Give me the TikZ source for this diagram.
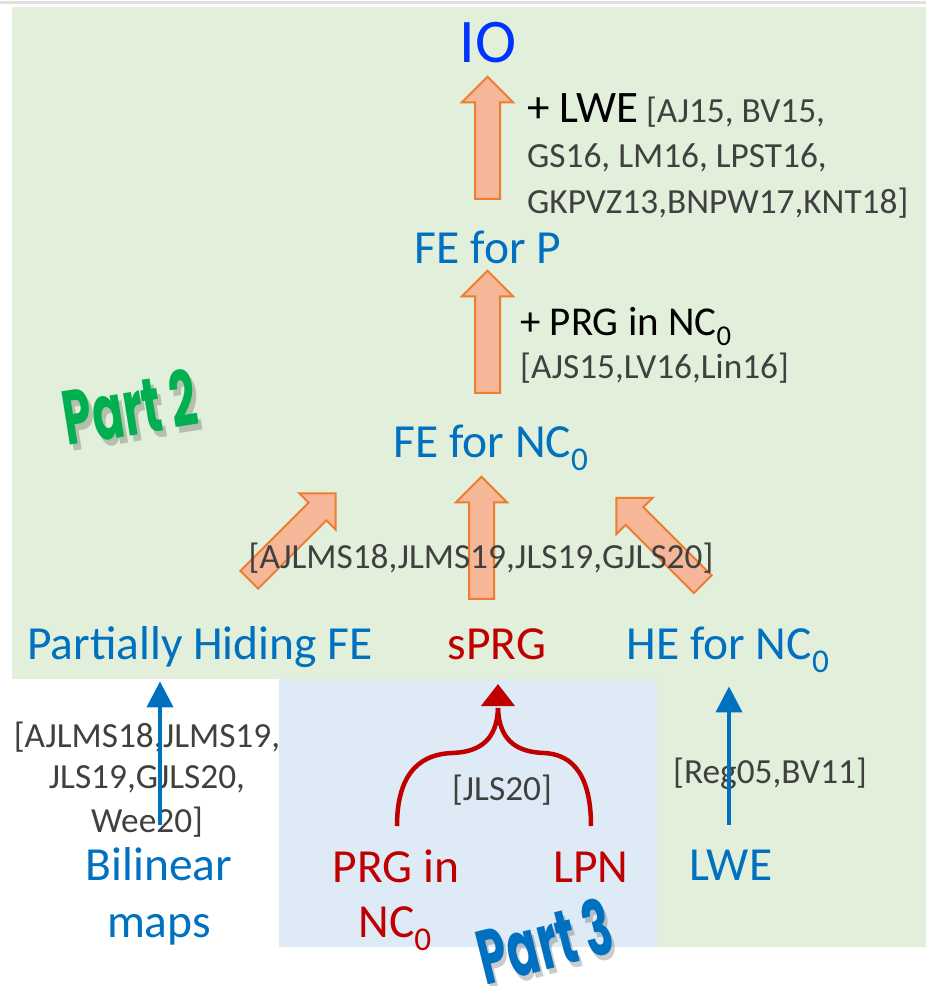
\documentclass[tikz,border=0pt]{standalone}
\usepackage{fontspec}
\usepackage{graphicx}
\setmainfont{Carlito}
\newfontfamily\partfont{Poppins}
\usetikzlibrary{shapes.arrows,arrows.meta}
\definecolor{greenbg}{RGB}{226,239,218}
\definecolor{bluebg}{RGB}{222,235,247}
\definecolor{topicblue}{RGB}{0,112,192}
\definecolor{ioblue}{RGB}{0,51,255}
\definecolor{topicred}{RGB}{192,0,0}
\definecolor{refgrey}{RGB}{64,64,64}
\definecolor{arrowfill}{RGB}{246,182,152}
\definecolor{arrowline}{RGB}{237,125,49}
\definecolor{partgreen}{RGB}{0,176,80}
\tikzset{
  lbl/.style={inner sep=0pt, font=\fontsize{47.5}{47.5}\selectfont, text=topicblue},
  ref/.style={inner sep=0pt, font=\fontsize{35.3}{35.3}\selectfont, text=refgrey},
  fatarrow/.style={single arrow, draw=arrowline, fill=arrowfill, line width=2pt,
    inner xsep=0pt, inner ysep=11.5pt, single arrow head extend=13pt, minimum height=122pt},
  thinarrow/.style={draw=topicblue, line width=4pt, -{Triangle[width=26pt,length=26pt]}},
  bracearrow/.style={draw=topicred, line width=4.5pt},
  parttag/.style={inner sep=0pt, font=\partfont\bfseries\fontsize{64}{64}\selectfont}
}
\begin{document}
\begin{tikzpicture}[x=1pt, y=-1pt]
    \useasboundingbox (0,0) rectangle (926,986);
    % backgrounds
    \draw[line width=3pt, black!12] (0,2) -- (926,2);
    \fill[greenbg] (12,7) -- (926,7) -- (926,947) -- (657,947) -- (657,679) -- (12,679) -- cycle;
    \fill[bluebg] (279,679) rectangle (657,947);
    % top part
    \node[inner sep=0pt, anchor=base, text=ioblue, font=\fontsize{62}{62}\selectfont] (io) at (488,62) {IO};
    \node[fatarrow, rotate=90] (up1) at (487.5,144) {};
    \node[ref, anchor=base west] (lwea) at (527,122) {{\color{black}\fontsize{45}{45}\selectfont + LWE} [AJ15, BV15,};
    \node[ref, anchor=base west] (lweb) at (527,167) {GS16, LM16, LPST16,};
    \node[ref, anchor=base west] (lwec) at (527,213) {GKPVZ13,BNPW17,KNT18]};
    \node[lbl, anchor=base] (fep) at (488,263) {FE for P};
    \node[fatarrow, rotate=90] (up2) at (487.5,338) {};
    \node[inner sep=0pt, anchor=base west, font=\fontsize{41}{41}\selectfont] (prga) at (520,335) {+ PRG in NC\textsubscript{0}};
    \node[ref, anchor=base west] (prgb) at (520,378) {[AJS15,LV16,Lin16]};
    \node[lbl, anchor=base] (fenc) at (491,457) {FE for NC\textsubscript{0}};
    % part 2 tag
    \node[parttag, text=black, opacity=0.2, rotate=9] (part2s) at (134,413) {\scalebox{0.72}[1.2]{Part 2}};
    \node[parttag, text=partgreen, rotate=9] (part2) at (130,407) {\scalebox{0.72}[1.2]{Part 2}};
    % three arrows into FE for NC0
    \node[fatarrow, rotate=45] (upl) at (288,541) {};
    \node[fatarrow, rotate=90] (upm) at (481.5,544) {};
    \node[fatarrow, rotate=135] (upr) at (664,545.5) {};
    \node[ref, anchor=base] (mainref) at (481,568) {[AJLMS18,JLMS19,JLS19,GJLS20]};
    % middle row
    \node[lbl, anchor=base] (phfe) at (200,659) {Partially Hiding FE};
    \node[lbl, anchor=base, text=topicred] (sprg) at (497,659) {sPRG};
    \node[lbl, anchor=base] (henc) at (728,659) {HE for NC\textsubscript{0}};
    % bottom left
    \node[ref, anchor=base] (bila) at (147,747) {[AJLMS18,JLMS19,};
    \node[ref, anchor=base] (bilb) at (147,788) {JLS19,GJLS20,};
    \node[ref, anchor=base] (bilc) at (147,832) {Wee20]};
    \node[lbl, anchor=base] (bil) at (159,880) {Bilinear};
    \node[lbl, anchor=base] (maps) at (159,937) {maps};
    \coordinate (bilfoot) at (160,825);
    \draw[thinarrow, shorten >=14pt] (bilfoot) -- (bilfoot |- phfe.south);
    % bottom middle
    \node[lbl, anchor=base, text=topicred] (prgin) at (396,882) {PRG in};
    \node[lbl, anchor=base, text=topicred] (nc) at (395,937) {NC\textsubscript{0}};
    \node[lbl, anchor=base, text=topicred] (lpn) at (591,882) {LPN};
    \node[ref, anchor=base] (jls) at (502,800) {[JLS20]};
    \coordinate (lfoot) at (397,826);
    \coordinate (rfoot) at (591,826);
    \coordinate (meet) at (498,708);
    \coordinate (sprgtip) at (498,684);
    \draw[bracearrow] (lfoot) .. controls (397,768) and (425,754) .. (452,753) .. controls (482,752) and (497,738) .. (meet);
    \draw[bracearrow] (rfoot) .. controls (591,768) and (567,754) .. (544,753) .. controls (514,752) and (499,738) .. (meet);
    \draw[bracearrow, -{Triangle[width=33pt,length=22pt]}] ([yshift=2pt]meet) -- (sprgtip);
    % part 3 tag
    \node[parttag, text=black, opacity=0.2, rotate=14] (part3s) at (548,946) {\scalebox{0.72}[1.2]{Part 3}};
    \node[parttag, text=topicblue, rotate=14] (part3) at (545,941) {\scalebox{0.72}[1.2]{Part 3}};
    % bottom right
    \node[ref, anchor=base] (reg) at (770,783) {[Reg05,BV11]};
    \node[lbl, anchor=base] (lwe) at (731,880) {LWE};
    \coordinate (lwefoot) at (729,825);
    \draw[thinarrow, shorten >=14pt] (lwefoot) -- (lwefoot |- henc.south);
\end{tikzpicture}
\end{document}
